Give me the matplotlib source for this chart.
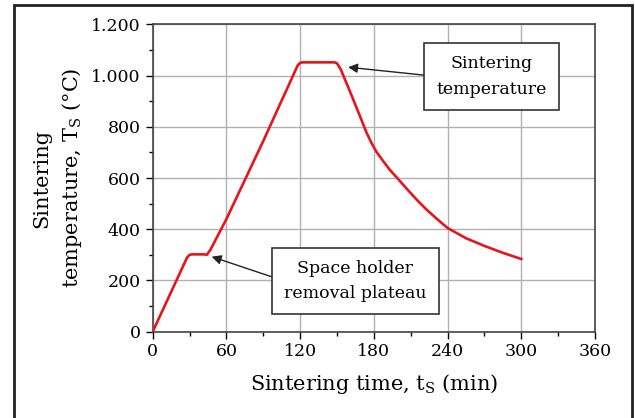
import matplotlib
matplotlib.use("Agg")
import matplotlib.pyplot as plt
from matplotlib.patches import Rectangle
from matplotlib.ticker import MultipleLocator

# --- data -----------------------------------------------------------------
time_min = [0, 28, 30, 32, 42, 44, 47, 60, 90, 118, 120, 122, 148, 150,
            153, 160, 168, 174, 178, 182, 187, 193, 200, 207, 215, 222,
            230, 240, 255, 270, 285, 300]
temp_c = [0, 290, 300, 302, 302, 300, 320, 440, 745, 1040, 1050, 1052,
          1052, 1048, 1025, 945, 850, 778, 738, 703, 670, 632, 595, 557,
          515, 481, 446, 405, 365, 335, 308, 284]

x_ticks = [0, 60, 120, 180, 240, 300, 360]
y_ticks = [0, 200, 400, 600, 800, 1000, 1200]
y_tick_labels = ["0", "200", "400", "600", "800", "1.000", "1.200"]

notes = ["Sintering\ntemperature", "Space holder\nremoval plateau"]
note_tips = [(159, 1033), (48, 293)]
note_pos = [(276, 997), (165, 198)]

plt.rcParams["font.family"] = ["DejaVu Serif"]
plt.rcParams["mathtext.fontset"] = "dejavuserif"

fig = plt.figure(figsize=(6.35, 4.18), dpi=100)
ax = fig.add_axes([0.2405, 0.2065, 0.6965, 0.735])

ax.plot(time_min, temp_c, color="#e8141b", lw=1.9, zorder=3,
        solid_joinstyle="round")

ax.set_xlim(0, 360)
ax.set_ylim(0, 1200)
ax.set_xticks(x_ticks)
ax.set_yticks(y_ticks)
ax.set_yticklabels(y_tick_labels)
ax.xaxis.set_minor_locator(MultipleLocator(30))
ax.yaxis.set_minor_locator(MultipleLocator(100))
ax.tick_params(which="major", direction="out", length=5, width=1, labelsize=12.5)
ax.tick_params(which="minor", direction="out", length=3, width=1)
ax.grid(True, which="major", color="#b0b0b0", lw=1)
ax.set_axisbelow(True)
for sp in ax.spines.values():
    sp.set_color("#444444")
    sp.set_linewidth(1.2)

ax.set_xlabel(r"Sintering time, t$_\mathrm{S}$ (min)", fontsize=15, labelpad=8)
ax.set_ylabel("Sintering\n" + r"temperature, T$_\mathrm{S}$ ($\degree$C)",
              fontsize=15, labelpad=5, linespacing=1.5)

box = dict(boxstyle="square,pad=0.7", fc="white", ec="#333333", lw=1.2)
for txt, tip, pos in zip(notes, note_tips, note_pos):
    ax.annotate(txt, xy=tip, xytext=pos, ha="center", va="center",
                fontsize=12.5, bbox=box, linespacing=1.65,
                arrowprops=dict(arrowstyle="-|>", color="#222222", lw=1,
                                mutation_scale=14, shrinkA=0, shrinkB=0,
                                relpos=(0, 0.5)),
                zorder=4)

# outer frame around the whole figure
fig.patches.append(Rectangle((14 / 635, -0.01), (632 - 14) / 635, 1 - 5 / 418 + 0.01,
                             transform=fig.transFigure, fill=False,
                             ec="#222222", lw=2))

fig.savefig("out.png", dpi=100)
